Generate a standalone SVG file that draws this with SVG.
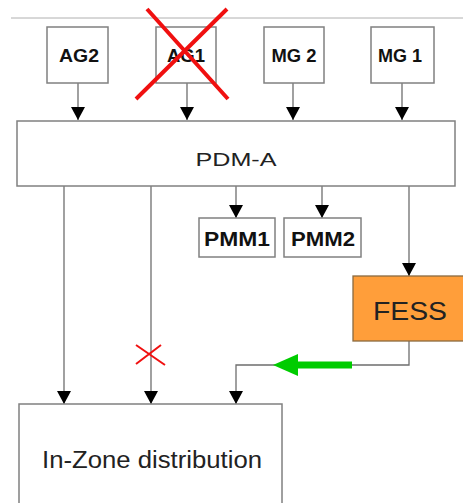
<svg xmlns="http://www.w3.org/2000/svg" width="463" height="503" viewBox="0 0 463 503">
<defs>
<style>
.box{fill:#fff;stroke:#808080;stroke-width:1.5}
.ln{fill:none;stroke:#6e6e6e;stroke-width:1.3}
.lbl{font-family:"Liberation Sans",Arial,sans-serif;font-weight:bold;font-size:18.5px;fill:#111;text-anchor:middle}
.pmm{font-family:"Liberation Sans",Arial,sans-serif;font-weight:bold;font-size:20px;fill:#111;text-anchor:middle}
.big{font-family:"Liberation Sans",Arial,sans-serif;fill:#222;text-anchor:middle}
.redx{stroke:#f01010;fill:none}
</style>
<marker id="ah" markerUnits="userSpaceOnUse" markerWidth="14" markerHeight="14" viewBox="0 0 14 14" refX="13" refY="7" orient="auto">
<path d="M0,0 L13,7 L0,14 Z" fill="#000"/>
</marker>
</defs>
<rect width="463" height="503" fill="#fff"/>
<line x1="11" y1="18" x2="463" y2="18" stroke="#b0b0b0" stroke-width="1"/>
<g id="connectors">
<line class="ln" x1="78" y1="83" x2="78" y2="120" marker-end="url(#ah)"/>
<line class="ln" x1="187" y1="83" x2="187" y2="120" marker-end="url(#ah)"/>
<line class="ln" x1="293" y1="83" x2="293" y2="120" marker-end="url(#ah)"/>
<line class="ln" x1="402" y1="83" x2="402" y2="120" marker-end="url(#ah)"/>
<line class="ln" x1="236" y1="186" x2="236" y2="218" marker-end="url(#ah)"/>
<line class="ln" x1="322" y1="186" x2="322" y2="218" marker-end="url(#ah)"/>
<line class="ln" x1="409" y1="186" x2="409" y2="276" marker-end="url(#ah)"/>
<line class="ln" x1="64" y1="186" x2="64" y2="404" marker-end="url(#ah)"/>
<line class="ln" x1="151" y1="186" x2="151" y2="404" marker-end="url(#ah)"/>
<polyline class="ln" points="409,341 409,365 236,365 236,404" marker-end="url(#ah)"/>
<line x1="352" y1="365" x2="294" y2="365" stroke="#00cc00" stroke-width="7"/>
<polygon points="273,365 298,354 298,376" fill="#00cc00"/>
<path class="redx" stroke-width="2" d="M136,345 L165,365 M161,345 L136,364"/>
</g>
<g id="AG2"><rect class="box" x="47" y="27" width="61" height="56"/><text class="lbl" x="79" y="62" textLength="40" lengthAdjust="spacingAndGlyphs">AG2</text></g>
<g id="AG1"><rect class="box" x="156" y="27" width="60" height="56"/><text class="lbl" x="186" y="62" textLength="38" lengthAdjust="spacingAndGlyphs">AG1</text>
<path class="redx" stroke-width="4" d="M147,9 L228,99 M227,9 L136,99"/></g>
<g id="MG2"><rect class="box" x="264" y="27" width="60" height="56"/><text class="lbl" x="294" y="62" textLength="45" lengthAdjust="spacingAndGlyphs">MG 2</text></g>
<g id="MG1"><rect class="box" x="371" y="27" width="63" height="56"/><text class="lbl" x="400" y="62" textLength="44" lengthAdjust="spacingAndGlyphs">MG 1</text></g>
<g id="PDM-A"><rect class="box" x="17" y="121" width="438" height="65"/><text class="big" x="236" y="166" font-size="19" textLength="81" lengthAdjust="spacingAndGlyphs">PDM-A</text></g>
<g id="PMM1"><rect class="box" x="199" y="218" width="76" height="39"/><text class="pmm" x="237" y="246" textLength="66" lengthAdjust="spacingAndGlyphs">PMM1</text></g>
<g id="PMM2"><rect class="box" x="284" y="218" width="77" height="39"/><text class="pmm" x="323" y="246" textLength="64" lengthAdjust="spacingAndGlyphs">PMM2</text></g>
<g id="FESS"><rect x="353" y="276" width="112" height="65" fill="#ff9e3a" stroke="#8a6a40" stroke-width="1.3"/><text class="big" x="410" y="320" font-size="26" fill="#111" textLength="74" lengthAdjust="spacingAndGlyphs">FESS</text></g>
<g id="InZone"><rect class="box" x="19" y="404" width="263" height="110"/><text class="big" x="152" y="468" font-size="23" textLength="220" lengthAdjust="spacingAndGlyphs">In-Zone distribution</text></g>
</svg>
